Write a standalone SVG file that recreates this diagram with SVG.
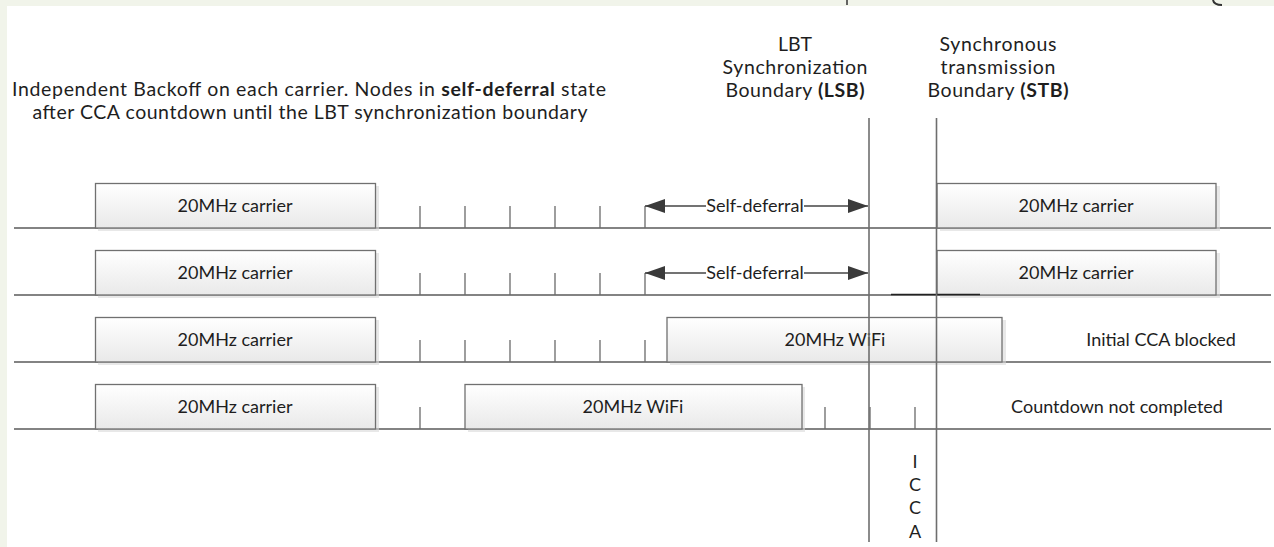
<svg xmlns="http://www.w3.org/2000/svg" width="1274" height="547" viewBox="0 0 1274 547">
<defs>
<linearGradient id="boxg" x1="0" y1="0" x2="0" y2="1">
<stop offset="0" stop-color="#ffffff"/>
<stop offset="1" stop-color="#e9e9e9"/>
</linearGradient>
<marker id="ah" viewBox="0 0 20 14" refX="20" refY="7" markerWidth="20" markerHeight="14" markerUnits="userSpaceOnUse" orient="auto-start-reverse">
<path d="M0,0 L20,7 L0,14 Z" fill="#3a3a3a"/>
</marker>
</defs>
<style>
text{font-family:Lato,"Liberation Sans",Arial,sans-serif;fill:#1e1e1e}
.t{font-size:19.5px;text-anchor:middle}
.bt{font-size:18px;text-anchor:middle}
.box{fill:url(#boxg);stroke:#707070;stroke-width:1.3}
.sh{fill:#d8d8d8;opacity:0.6}
.base{stroke:#5a5a5a;stroke-width:1.4;fill:none}
.tick{stroke:#6a6a6a;stroke-width:1.3}
.vb{stroke:#6e6e6e;stroke-width:1.6}
.arr{stroke:#444;stroke-width:1.3;fill:none}
</style>
<rect x="0" y="0" width="1274" height="547" fill="#ffffff"/>
<rect x="0" y="0" width="1274" height="6" fill="#f1f4ea"/>
<rect x="0" y="0" width="7" height="547" fill="#f1f4ea"/>
<path d="M847,0 L847,5" stroke="#333" stroke-width="1.5"/>
<path d="M1213,0 Q1214,5 1222,5" stroke="#333" stroke-width="2" fill="none"/>

<g id="caption">
<text class="t" x="309" y="96" textLength="594" lengthAdjust="spacing">Independent Backoff on each carrier. Nodes in <tspan font-weight="bold">self-deferral</tspan> state</text>
<text class="t" x="310" y="119" textLength="555" lengthAdjust="spacing">after CCA countdown until the LBT synchronization boundary</text>
</g>
<g id="lsb-label">
<text class="t" x="795" y="51">LBT</text>
<text class="t" x="795" y="74" textLength="145" lengthAdjust="spacing">Synchronization</text>
<text class="t" x="795" y="97" textLength="139" lengthAdjust="spacing">Boundary <tspan font-weight="bold">(LSB)</tspan></text>
</g>
<g id="stb-label">
<text class="t" x="998" y="51" textLength="117" lengthAdjust="spacing">Synchronous</text>
<text class="t" x="998" y="74" textLength="115" lengthAdjust="spacing">transmission</text>
<text class="t" x="998" y="97" textLength="141" lengthAdjust="spacing">Boundary <tspan font-weight="bold">(STB)</tspan></text>
</g>

<g id="baselines">
<line class="base" x1="14" y1="228" x2="1271" y2="228"/>
<line class="base" x1="14" y1="295" x2="1271" y2="295"/>
<line class="base" x1="14" y1="362" x2="1271" y2="362"/>
<line class="base" x1="14" y1="429" x2="1271" y2="429"/>
</g>

<g id="ticks">
<path class="tick" d="M420,206V228 M465,206V228 M510,206V228 M555,206V228 M600,206V228 M645,206V228"/>
<path class="tick" d="M420,273V295 M465,273V295 M510,273V295 M555,273V295 M600,273V295 M645,273V295"/>
<path class="tick" d="M420,340V362 M465,340V362 M510,340V362 M555,340V362 M600,340V362 M645,340V362"/>
<path class="tick" d="M420,407V429 M825,407V429 M870,407V429 M915,407V429"/>
</g>

<g id="row1-carrier-a">
<rect class="sh" x="98" y="186" width="281" height="45"/>
<rect class="box" x="95.5" y="183.5" width="280" height="44.5"/>
<text class="bt" x="235" y="212">20MHz carrier</text>
</g>
<g id="row1-carrier-b">
<rect class="sh" x="940" y="186" width="280" height="45"/>
<rect class="box" x="937" y="183.5" width="279" height="44.5"/>
<text class="bt" x="1076" y="212">20MHz carrier</text>
</g>
<g id="row2-carrier-a">
<rect class="sh" x="98" y="253" width="281" height="45"/>
<rect class="box" x="95.5" y="250.5" width="280" height="44.5"/>
<text class="bt" x="235" y="279">20MHz carrier</text>
</g>
<g id="row2-carrier-b">
<rect class="sh" x="940" y="253" width="280" height="45"/>
<rect class="box" x="937" y="250.5" width="279" height="44.5"/>
<text class="bt" x="1076" y="279">20MHz carrier</text>
</g>
<g id="row3-carrier">
<rect class="sh" x="98" y="320" width="281" height="45"/>
<rect class="box" x="95.5" y="317.5" width="280" height="44.5"/>
<text class="bt" x="235" y="346">20MHz carrier</text>
</g>
<g id="row3-wifi">
<rect class="sh" x="670" y="320" width="336" height="45"/>
<rect class="box" x="667" y="317.5" width="335" height="44.5"/>
<text class="bt" x="835" y="346">20MHz WiFi</text>
</g>
<g id="row4-carrier">
<rect class="sh" x="98" y="387" width="281" height="45"/>
<rect class="box" x="95.5" y="384.5" width="280" height="44.5"/>
<text class="bt" x="235" y="413">20MHz carrier</text>
</g>
<g id="row4-wifi">
<rect class="sh" x="468" y="387" width="337" height="45"/>
<rect class="box" x="465" y="384.5" width="337" height="44.5"/>
<text class="bt" x="633" y="413">20MHz WiFi</text>
</g>

<g id="connectors">
<line x1="891" y1="294.5" x2="980" y2="294.5" stroke="#222" stroke-width="1.6"/>
<line class="vb" x1="869" y1="118" x2="869" y2="542"/>
<line class="vb" x1="936.5" y1="118" x2="936.5" y2="542"/>
<line class="arr" x1="645" y1="206" x2="706" y2="206" marker-start="url(#ah)"/>
<line class="arr" x1="804" y1="206" x2="868" y2="206" marker-end="url(#ah)"/>
<line class="arr" x1="645" y1="273" x2="706" y2="273" marker-start="url(#ah)"/>
<line class="arr" x1="804" y1="273" x2="868" y2="273" marker-end="url(#ah)"/>
</g>

<g id="labels">
<text class="bt" x="755" y="212">Self-deferral</text>
<text class="bt" x="755" y="279">Self-deferral</text>
<text class="bt" x="1161" y="346">Initial CCA blocked</text>
<text class="bt" x="1117" y="413">Countdown not completed</text>
<text class="bt" x="915" y="468">I</text>
<text class="bt" x="915" y="491">C</text>
<text class="bt" x="915" y="514">C</text>
<text class="bt" x="915" y="538">A</text>
</g>
</svg>
